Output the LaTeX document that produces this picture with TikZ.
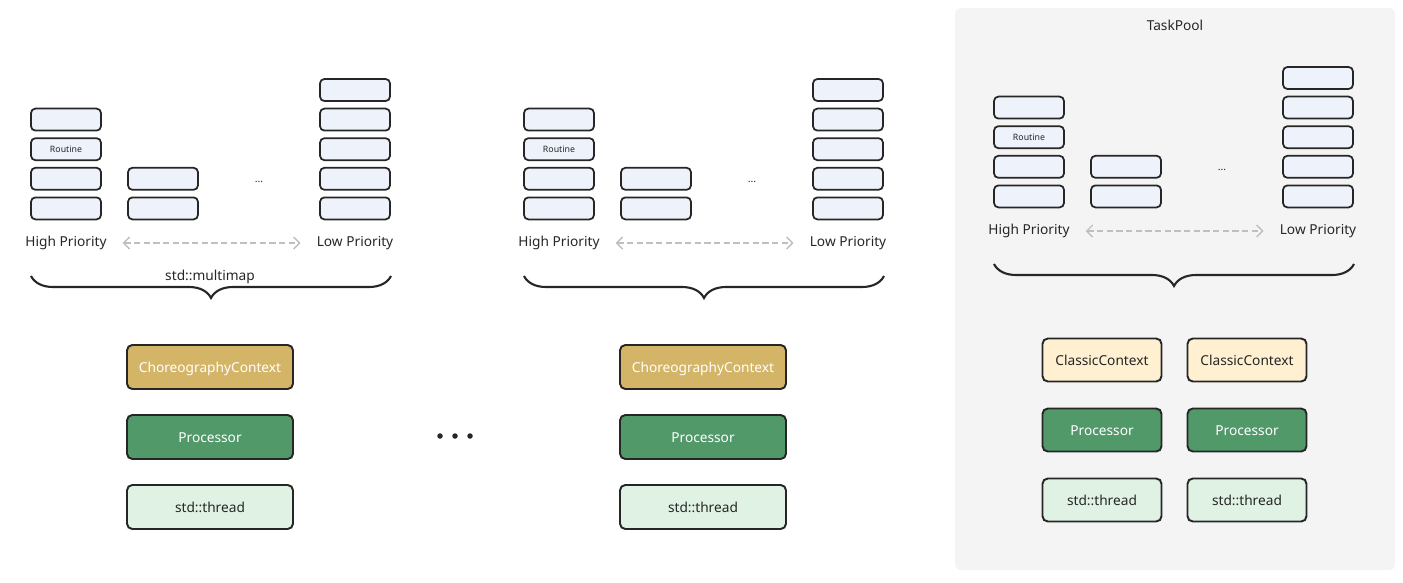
\documentclass[tikz,border=0pt]{standalone}
\usepackage{fontspec}
\setmainfont{Noto Sans}
\usetikzlibrary{arrows.meta,decorations.pathreplacing}

\definecolor{rtblue}{HTML}{EEF2FB}
\definecolor{choreo}{HTML}{D4B567}
\definecolor{procgreen}{HTML}{52996A}
\definecolor{thrgreen}{HTML}{DFF2E3}
\definecolor{classic}{HTML}{FFF0D1}
\definecolor{poolgray}{HTML}{F4F4F4}
\definecolor{ink}{HTML}{262626}

\begin{document}
\begin{tikzpicture}[x=0.02cm,y=-0.02cm,font=\fontsize{7.8}{9}\selectfont,text=ink]
  \tikzset{ rt/.style={draw=ink,line width=1pt,rounded corners=2.5pt,fill=rtblue,
              minimum width=1.4cm,minimum height=0.44cm,inner sep=0pt,
              font=\fontsize{5}{6}\selectfont},
    box/.style={draw=ink,line width=1.1pt,rounded corners=3pt,
              minimum width=3.32cm,minimum height=0.88cm,inner sep=0pt,
              text height=0.9em,text depth=0.24em},
    small/.style={minimum width=2.38cm,minimum height=0.86cm},
    ctxbox/.style={box,fill=choreo,text=white},
    procbox/.style={box,fill=procgreen,text=white},
    thrbox/.style={box,fill=thrgreen},
    clbox/.style={box,fill=classic},
    prio/.style={dashed,dash pattern=on 3.5pt off 2pt,draw=black!25,line width=0.8pt,
              {Straight Barb[length=0.12cm,width=0.24cm]}-{Straight Barb[length=0.12cm,width=0.24cm]},
              shorten <=0.2cm,shorten >=0.2cm},
    bracket/.style={decorate,decoration={brace,mirror,amplitude=0.44cm},line width=1.2pt,draw=ink},
    dot/.style={circle,fill=ink,inner sep=0pt,minimum size=0.11cm},
  }
  \useasboundingbox (0,0) rectangle (1403,582);

  % task pool background
  \fill[poolgray,rounded corners=3pt] (955,8) rectangle (1395,570);
  \node (pool) at (1175,25) {TaskPool};

  % priority queues of routines
  \foreach \p/\dx/\dy in {1/0/0,2/493/0,3/963/-12}{
    \foreach \k in {1,...,4}
      \node[rt] (hp\p-\k) at ({66+\dx},{90+29.6*\k+\dy}) {\ifnum\k=2 Routine\fi};
    \foreach \k in {3,4}
      \node[rt] (mp\p-\k) at ({163+\dx},{90+29.6*\k+\dy}) {};
    \foreach \k in {0,...,4}
      \node[rt] (lp\p-\k) at ({355+\dx},{90+29.6*\k+\dy}) {};
    \node[font=\fontsize{6}{7}\selectfont] (more\p) at ({259+\dx},{182+\dy}) {...};
    \node (hi\p) at ({66+\dx},{243+\dy}) {High Priority};
    \node (lo\p) at ({355+\dx},{243+\dy}) {Low Priority};
    \draw[prio] (hi\p.east) -- (lo\p.west);
    % the brace under the queues
    \coordinate (bl\p) at ({31+\dx},{276+\dy});
    \coordinate (br\p) at ({391+\dx},{276+\dy});
    \draw[bracket] (bl\p) -- (br\p);
  }
  \node (mm) at (210,277) {std::multimap};

  % choreography workers
  \foreach \p/\dx in {1/0,2/493}{
    \node[ctxbox] (cc\p) at ({210+\dx},367) {ChoreographyContext};
    \node[procbox] (pr\p) at ({210+\dx},437) {Processor};
    \node[thrbox] (th\p) at ({210+\dx},507) {std::thread};
  }
  \foreach \i/\x in {1/440,2/455,3/470}
    \node[dot] (dot\i) at (\x,436) {};

  % classic workers
  \foreach \j/\x in {1/1102,2/1247}{
    \node[clbox,small] (cl\j) at (\x,360) {ClassicContext};
    \node[procbox,small] (cp\j) at (\x,430) {Processor};
    \node[thrbox,small] (ct\j) at (\x,500) {std::thread};
  }
\end{tikzpicture}
\end{document}
